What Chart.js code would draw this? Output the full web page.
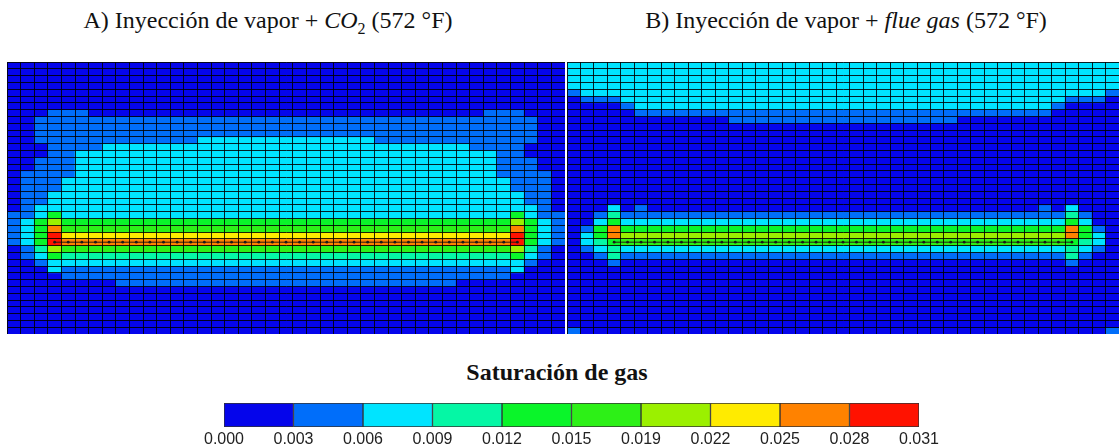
<!DOCTYPE html>
<html>
<head>
<meta charset="utf-8">
<script src="https://cdn.jsdelivr.net/npm/chart.js@4.4.1/dist/chart.umd.min.js"></script>
<style>
  body { margin: 0; background: #fff; width: 1119px; height: 447px; overflow: hidden; position: relative; font-family: "Liberation Serif", serif; }
  .ttl { position: absolute; top: 7px; font-size: 24px; line-height: 27px; color: #111; white-space: nowrap; transform: translateX(-50%); }
  .ttl sub { font-size: 16px; line-height: 0; }
  .leyenda { position: absolute; top: 358px; left: 557px; font-size: 24px; line-height: 28px; font-weight: bold; color: #111; white-space: nowrap; transform: translateX(-50%); }
  canvas { position: absolute; }
</style>
</head>
<body>
<div class="ttl" style="left:268px">A) Inyección de vapor + <i>CO</i><sub>2</sub> (572 °F)</div>
<div class="ttl" style="left:846px">B) Inyección de vapor + <i>flue gas</i> (572 °F)</div>
<div class="leyenda">Saturación de gas</div>
<canvas id="panelA" width="558" height="272" style="left:7px;top:62px"></canvas>
<canvas id="panelB" width="552" height="272" style="left:567px;top:62px"></canvas>
<canvas id="escala" width="814" height="58" style="left:150px;top:393px"></canvas>
<script>
// limites de la escala de saturacion de gas
const binEdges = ["0.000", "0.003", "0.006", "0.009", "0.012", "0.015", "0.019", "0.022", "0.025", "0.028", "0.031"];
const binColors = ["#0505EB", "#006EFA", "#00E4FF", "#05F7A5", "#0AF52A", "#2DF017", "#9BF000", "#FFEB00", "#FF8200", "#FF1200"];

const rowCount = 40;
// pozo: fila y columnas donde va la linea punteada
const wellRow = 26;
const wellFrom = 3;
const wellTo = 37;

// cada fila: pares [clase, cantidad de celdas] de izquierda a derecha (41 columnas)
const gridA = [
  [[0, 41]],
  [[0, 41]],
  [[0, 41]],
  [[0, 41]],
  [[0, 41]],
  [[0, 41]],
  [[0, 41]],
  [[0, 3], [1, 3], [0, 29], [1, 3], [0, 3]],
  [[0, 2], [1, 37], [0, 2]],
  [[0, 2], [1, 37], [0, 2]],
  [[0, 2], [1, 37], [0, 2]],
  [[0, 2], [1, 12], [2, 13], [1, 12], [0, 2]],
  [[0, 3], [1, 4], [2, 27], [1, 4], [0, 3]],
  [[0, 3], [1, 2], [2, 31], [1, 2], [0, 3]],
  [[0, 2], [1, 3], [2, 31], [1, 3], [0, 2]],
  [[0, 2], [1, 3], [2, 31], [1, 3], [0, 2]],
  [[0, 1], [1, 4], [2, 31], [1, 4], [0, 1]],
  [[0, 1], [1, 3], [2, 33], [1, 3], [0, 1]],
  [[0, 1], [1, 3], [2, 33], [1, 3], [0, 1]],
  [[0, 1], [1, 2], [2, 35], [1, 2], [0, 1]],
  [[0, 1], [1, 2], [2, 35], [1, 2], [0, 1]],
  [[0, 1], [1, 1], [2, 37], [1, 1], [0, 1]],
  [[1, 2], [2, 1], [4, 1], [2, 33], [4, 1], [2, 1], [1, 2]],
  [[1, 1], [2, 1], [4, 1], [6, 1], [4, 33], [6, 1], [4, 1], [2, 1], [1, 1]],
  [[1, 1], [2, 1], [4, 1], [8, 1], [5, 33], [8, 1], [4, 1], [2, 1], [1, 1]],
  [[1, 1], [2, 1], [4, 1], [9, 1], [7, 33], [9, 1], [4, 1], [2, 1], [1, 1]],
  [[1, 1], [2, 1], [4, 1], [9, 1], [8, 33], [9, 1], [4, 1], [2, 1], [1, 1]],
  [[0, 1], [1, 1], [3, 1], [6, 1], [5, 33], [6, 1], [3, 1], [1, 1], [0, 1]],
  [[0, 1], [1, 1], [2, 1], [4, 1], [3, 33], [4, 1], [2, 1], [1, 1], [0, 1]],
  [[0, 2], [1, 1], [2, 35], [1, 1], [0, 2]],
  [[0, 3], [2, 1], [1, 33], [2, 1], [0, 3]],
  [[0, 4], [1, 33], [0, 4]],
  [[0, 8], [1, 25], [0, 8]],
  [[0, 41]],
  [[0, 41]],
  [[0, 41]],
  [[0, 41]],
  [[0, 41]],
  [[0, 41]],
  [[0, 41]]
];

const gridB = [
  [[2, 41]],
  [[2, 41]],
  [[2, 41]],
  [[2, 41]],
  [[1, 1], [2, 39], [1, 1]],
  [[0, 1], [1, 3], [2, 33], [1, 3], [0, 1]],
  [[0, 4], [1, 1], [2, 31], [1, 1], [0, 4]],
  [[0, 5], [1, 31], [0, 5]],
  [[0, 12], [1, 17], [0, 12]],
  [[0, 41]],
  [[0, 41]],
  [[0, 41]],
  [[0, 41]],
  [[0, 41]],
  [[0, 41]],
  [[0, 41]],
  [[0, 41]],
  [[0, 41]],
  [[0, 41]],
  [[0, 41]],
  [[0, 41]],
  [[0, 3], [2, 1], [0, 1], [1, 1], [0, 29], [1, 1], [0, 1], [2, 1], [0, 3]],
  [[0, 2], [1, 1], [3, 1], [1, 33], [3, 1], [1, 1], [0, 2]],
  [[0, 2], [2, 1], [4, 1], [2, 33], [4, 1], [2, 1], [0, 2]],
  [[0, 1], [1, 1], [4, 1], [8, 1], [4, 33], [8, 1], [4, 1], [1, 1], [0, 1]],
  [[0, 1], [2, 1], [4, 1], [8, 1], [6, 33], [8, 1], [4, 1], [2, 1], [0, 1]],
  [[0, 1], [2, 1], [3, 1], [4, 1], [5, 33], [4, 1], [3, 1], [2, 1], [0, 1]],
  [[0, 1], [1, 1], [2, 1], [3, 1], [2, 33], [3, 1], [2, 1], [1, 1], [0, 1]],
  [[0, 2], [1, 1], [3, 1], [1, 33], [3, 1], [1, 1], [0, 2]],
  [[0, 3], [1, 1], [0, 33], [1, 1], [0, 3]],
  [[0, 41]],
  [[0, 41]],
  [[0, 41]],
  [[0, 41]],
  [[0, 41]],
  [[0, 41]],
  [[0, 41]],
  [[0, 41]],
  [[0, 41]],
  [[1, 1], [0, 39], [1, 1]]
];

function expand(runs) {
  const out = [];
  runs.forEach(([bin, n]) => {
    for (let i = 0; i < n; i++) out.push(bin);
  });
  return out;
}

function makePanel(id, grid) {
  const cells = grid.map(expand);
  const labels = cells[0].map((_, i) => i + 1);

  const datasets = [{
    type: "line",
    data: labels.map((_, i) => (i >= wellFrom && i <= wellTo ? wellRow + 0.5 : null)),
    borderColor: "#2a1c12",
    borderWidth: 1,
    pointRadius: 1.4,
    pointBackgroundColor: "#1a1a1a",
    pointBorderWidth: 0,
    order: 0
  }];

  cells.forEach((row, r) => {
    datasets.push({
      type: "bar",
      data: row.map(() => [r, r + 1]),
      backgroundColor: row.map(b => binColors[b]),
      borderWidth: 0,
      barPercentage: 1,
      categoryPercentage: 1,
      grouped: false,
      order: 1
    });
  });

  new Chart(document.getElementById(id), {
    type: "bar",
    data: { labels, datasets },
    options: {
      responsive: false,
      animation: false,
      layout: { padding: 0, autoPadding: false },
      plugins: {
        legend: { display: false },
        tooltip: { enabled: false }
      },
      scales: {
        x: {
          type: "category",
          offset: true,
          ticks: { display: false, padding: 0 },
          grid: { offset: true, color: "rgba(0,0,0,0.85)", lineWidth: 1, drawTicks: false, z: 1 },
          border: { color: "#000" }
        },
        y: {
          type: "linear",
          min: 0,
          max: rowCount,
          reverse: true,
          ticks: { display: false, stepSize: 1, padding: 0 },
          grid: { color: "rgba(0,0,0,0.85)", lineWidth: 1, drawTicks: false, z: 1 },
          border: { color: "#000" }
        }
      }
    }
  });
}

makePanel("panelA", gridA);
makePanel("panelB", gridB);

// barra de colores
new Chart(document.getElementById("escala"), {
  type: "bar",
  data: {
    labels: [""],
    datasets: binColors.map((c, i) => ({
      data: [[i, i + 1]],
      backgroundColor: c,
      borderColor: "#333",
      borderWidth: 1,
      borderSkipped: false,
      barPercentage: 1,
      categoryPercentage: 1,
      grouped: false
    }))
  },
  options: {
    indexAxis: "y",
    responsive: false,
    animation: false,
    layout: { padding: { left: 74, right: 45, top: 10 } },
    plugins: {
      legend: { display: false },
      tooltip: { enabled: false }
    },
    scales: {
      x: {
        type: "linear",
        min: 0,
        max: 10,
        ticks: {
          stepSize: 1,
          color: "#222",
          padding: 3,
          font: { family: "Liberation Sans", size: 16 },
          callback: v => binEdges[v]
        },
        grid: { display: false, drawTicks: false },
        border: { display: false }
      },
      y: { display: false }
    }
  }
});
</script>
</body>
</html>
